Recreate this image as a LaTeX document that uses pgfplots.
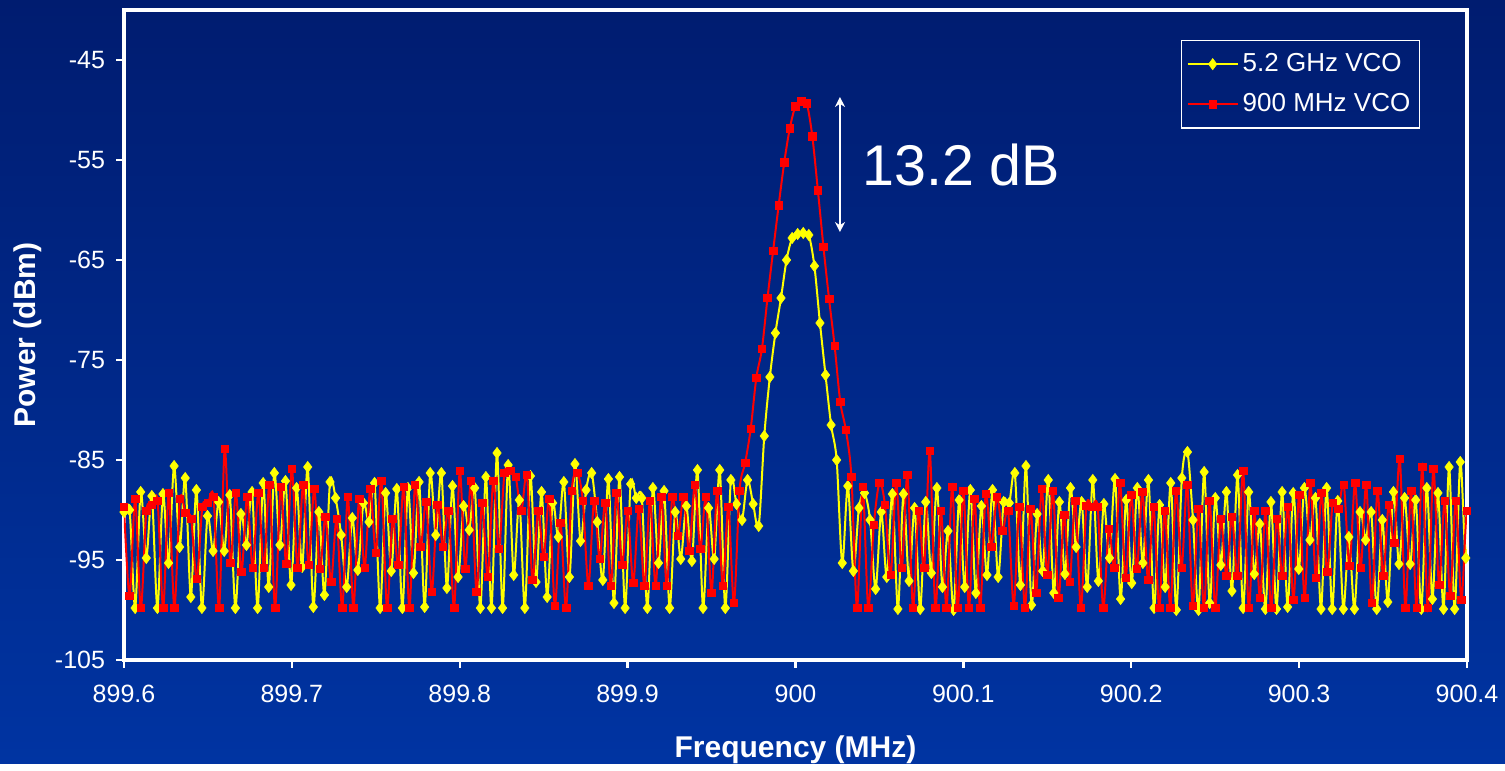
\documentclass[border=0pt]{standalone}
\usepackage{pgfplots}
\pgfplotsset{compat=1.18}
\usepackage{pgfplotstable}
\usetikzlibrary{arrows.meta}
\usepackage{fontspec}
\setmainfont{Liberation Sans}
\definecolor{bgtop}{RGB}{0,28,112}
\definecolor{bgbot}{RGB}{0,52,162}
\definecolor{vyellow}{RGB}{255,255,0}
\definecolor{vred}{RGB}{255,0,0}

% 900 MHz VCO, points every 1/300 MHz from 899.6
\pgfplotstableread{
y
-89.7
-98.6
-88.9
-99.8
-90.1
-89.5
-89.1
-99.8
-88.3
-99.8
-88.9
-90.3
-90.9
-96.9
-89.7
-89.3
-88.7
-99.8
-83.9
-95.3
-88.3
-96.2
-88.7
-95.8
-88.3
-95.8
-87.5
-99.8
-87.7
-95.4
-85.9
-95.8
-87.5
-95.5
-87.9
-95.9
-90.7
-97.2
-90.9
-99.8
-88.7
-99.8
-88.9
-95.8
-87.9
-94.3
-87.1
-99.8
-90.9
-95.5
-87.7
-99.8
-87.5
-93.7
-89.2
-98.2
-89.5
-93.7
-90.1
-99.8
-86.1
-95.9
-87.1
-98.2
-89.3
-96.7
-87.1
-93.9
-86.3
-86.1
-86.7
-90.1
-86.5
-97.0
-90.1
-94.7
-88.9
-99.6
-91.3
-99.8
-88.1
-86.3
-89.1
-97.6
-89.1
-94.9
-89.3
-97.6
-88.3
-95.5
-90.1
-97.3
-89.9
-97.6
-89.1
-97.6
-88.7
-97.6
-88.7
-92.6
-88.7
-94.1
-87.5
-93.9
-88.7
-98.3
-88.1
-97.6
-89.7
-99.3
-88.1
-85.3
-81.9
-76.8
-73.9
-68.8
-64.1
-59.5
-55.2
-51.8
-49.6
-49.1
-49.3
-52.6
-58.0
-63.7
-68.9
-73.6
-79.2
-82.0
-86.7
-99.8
-87.7
-99.8
-91.5
-87.3
-89.5
-96.5
-87.3
-95.8
-86.5
-99.8
-90.1
-95.8
-84.1
-99.8
-90.1
-99.8
-87.7
-99.8
-88.1
-99.8
-88.9
-99.8
-88.4
-93.7
-88.7
-92.1
-90.1
-99.6
-89.7
-99.8
-89.9
-98.3
-87.9
-96.5
-88.1
-98.8
-90.5
-97.2
-89.1
-99.8
-89.6
-89.7
-89.7
-99.8
-91.9
-95.8
-87.3
-96.8
-88.5
-95.9
-88.2
-97.0
-89.7
-99.8
-90.1
-99.8
-88.1
-95.8
-87.5
-99.6
-89.9
-99.8
-89.1
-99.8
-90.9
-96.6
-90.7
-96.6
-86.1
-99.8
-90.1
-98.8
-90.1
-99.8
-90.9
-96.6
-89.7
-99.0
-88.5
-98.8
-87.3
-96.8
-88.3
-96.2
-89.3
-89.9
-87.5
-95.6
-87.3
-95.8
-87.5
-99.3
-88.1
-96.6
-89.5
-93.3
-84.9
-99.8
-88.1
-99.8
-85.7
-99.8
-85.9
-97.5
-89.1
-98.6
-89.1
-99.0
-90.1
-97.7
}\redtab

% 5.2 GHz VCO, points every 0.0033166 MHz from 899.6
\pgfplotstableread{
y
-90.2
-90.0
-99.8
-88.2
-94.8
-88.6
-99.8
-88.4
-95.3
-85.6
-93.7
-86.8
-98.7
-88.0
-99.8
-90.6
-94.1
-89.2
-94.1
-88.5
-99.8
-90.4
-93.5
-88.2
-99.8
-87.3
-97.7
-86.3
-93.5
-87.1
-97.5
-87.8
-95.7
-85.7
-99.7
-90.2
-98.5
-87.2
-88.8
-92.5
-97.7
-90.8
-96.0
-89.3
-91.2
-87.3
-99.8
-88.3
-96.1
-87.9
-99.8
-87.8
-96.3
-87.2
-99.7
-86.3
-92.5
-86.3
-97.8
-87.6
-96.7
-89.6
-92.0
-87.8
-99.8
-86.7
-99.8
-84.3
-99.8
-85.5
-96.5
-89.0
-99.8
-86.6
-97.2
-88.2
-98.7
-89.3
-92.7
-87.2
-96.7
-85.4
-93.1
-88.0
-86.3
-91.2
-97.0
-86.9
-99.3
-86.7
-99.8
-87.4
-88.8
-88.8
-99.8
-87.8
-95.3
-88.1
-99.8
-90.2
-94.9
-89.6
-95.1
-86.0
-99.8
-89.8
-94.9
-86.0
-99.8
-87.0
-89.4
-91.0
-87.0
-89.4
-91.6
-82.6
-76.7
-72.3
-68.8
-65.0
-62.8
-62.4
-62.3
-62.5
-65.6
-71.3
-76.5
-81.5
-85.0
-95.3
-87.6
-96.1
-89.8
-88.3
-91.0
-97.9
-90.2
-96.7
-88.4
-99.9
-88.4
-97.1
-89.8
-99.9
-89.2
-96.3
-87.8
-97.7
-92.1
-100.0
-89.0
-97.7
-88.0
-98.3
-89.6
-96.5
-88.0
-96.7
-89.2
-89.3
-86.3
-97.5
-85.6
-99.5
-90.4
-96.1
-87.0
-98.3
-89.2
-96.4
-87.8
-93.7
-89.2
-97.7
-87.0
-97.1
-89.4
-94.8
-86.9
-98.9
-89.0
-97.3
-87.8
-95.3
-87.0
-99.8
-89.5
-97.7
-87.3
-100.0
-86.8
-84.2
-91.0
-100.0
-86.2
-99.3
-88.8
-95.5
-88.2
-98.1
-86.5
-99.8
-88.2
-96.4
-91.4
-99.9
-89.2
-99.9
-88.2
-99.7
-88.3
-95.9
-87.8
-93.0
-88.8
-99.9
-87.8
-99.9
-89.1
-99.9
-92.7
-99.9
-90.2
-93.0
-90.2
-99.9
-91.0
-99.2
-88.2
-95.4
-88.8
-95.4
-89.0
-99.9
-87.8
-98.9
-88.3
-99.9
-85.7
-99.9
-85.2
-94.8
-88.8
}\yeltab

\begin{document}
\begin{tikzpicture}
\shade[top color=bgtop, bottom color=bgbot] (-62bp,-52bp) rectangle (690.5bp,330bp);
\begin{axis}[
  at={(0,0)}, anchor=south west,
  width=671.5bp, height=325bp, scale only axis,
  xmin=899.6, xmax=900.4, ymin=-105, ymax=-40,
  axis line style={white, line width=1.6bp},
  xtick={899.6,899.7,899.8,899.9,900,900.1,900.2,900.3,900.4},
  xticklabels={899.6,899.7,899.8,899.9,900,900.1,900.2,900.3,900.4},
  ytick={-105,-95,-85,-75,-65,-55,-45},
  yticklabels={-105,-95,-85,-75,-65,-55,-45},
  tick align=outside, xtick pos=left, ytick pos=left,
  major tick length=4bp,
  tick style={white, line width=1.2bp},
  ticklabel style={text=white, font=\fontsize{12.5bp}{15bp}\selectfont},
  yticklabel style={xshift=-2bp},
  xticklabel style={yshift=-5bp},
  xlabel={Frequency (MHz)}, ylabel={Power (dBm)},
  label style={text=white, font=\bfseries\fontsize{15bp}{18bp}\selectfont},
  xlabel style={at={(axis description cs:0.5,-0.1385)}, anchor=center},
  ylabel style={at={(axis description cs:-0.0715,0.5)}, anchor=center},
  legend style={at={(axis description cs:0.965,0.954)}, anchor=north east,
    draw=white, line width=0.7bp, fill=none, text=white,
    font=\fontsize{13bp}{15bp}\selectfont, row sep=5.5bp,
    inner xsep=2.5bp, inner ysep=4.5bp},
  legend cell align=left,
  legend image code/.code={\draw[mark repeat=2,mark phase=2] plot coordinates {(0bp,0bp) (12.5bp,0bp) (25bp,0bp)};},
]
\addplot[color=vyellow, line width=1bp, smooth, mark=diamond*, mark size=2.8bp,
  mark options={fill=vyellow, draw=vyellow, line width=0.3bp}]
  table[x expr=899.6+\coordindex*0.0033166, y=y] {\yeltab};
\addlegendentry{5.2 GHz VCO}
\addplot[color=vred, line width=1bp, smooth, mark=square*, mark size=1.9bp,
  mark options={fill=vred, draw=vred, line width=0.3bp}]
  table[x expr=899.6+\coordindex/300, y=y] {\redtab};
\addlegendentry{900 MHz VCO}
\draw[white, line width=1.1bp, {Stealth[length=5bp,width=5bp]}-{Stealth[length=5bp,width=5bp]}]
  (axis cs:900.0265,-48.7) -- (axis cs:900.0265,-62.2);
\node[text=white, inner sep=0pt, anchor=west, font=\fontsize{28.7bp}{34bp}\selectfont]
  at (axis cs:900.0396,-55.5) {13.2 dB};
\end{axis}
\end{tikzpicture}
\end{document}
